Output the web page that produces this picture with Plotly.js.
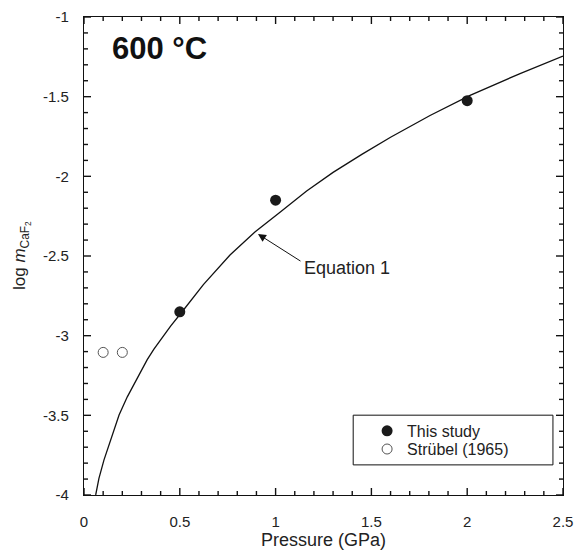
<!DOCTYPE html>
<html>
<head>
<meta charset="utf-8">
<script src="https://cdn.plot.ly/plotly-3.0.1.min.js"></script>
<style>
  html, body { margin: 0; padding: 0; background: #fff; }
  #chart { width: 584px; height: 550px; }
</style>
</head>
<body>
<div id="chart"></div>
<script>
// Equation 1 curve
const curveP = [0.061, 0.078, 0.104, 0.139, 0.183, 0.226, 0.278, 0.33, 0.365, 0.452, 0.51, 0.623, 0.762, 0.892, 1.023, 1.162, 1.30, 1.45, 1.60, 1.806, 2.015, 2.276, 2.5];
const curveLogM = [-4.0, -3.896, -3.781, -3.655, -3.498, -3.384, -3.265, -3.15, -3.085, -2.94, -2.853, -2.68, -2.494, -2.35, -2.225, -2.092, -1.975, -1.862, -1.755, -1.618, -1.492, -1.355, -1.245];

// This study
const studyP = [0.5, 1.0, 2.0];
const studyLogM = [-2.85, -2.15, -1.525];

// Strübel (1965)
const strubelP = [0.1, 0.2];
const strubelLogM = [-3.105, -3.105];

// Tick labels
const xTickVals = [0, 0.5, 1, 1.5, 2, 2.5];
const xTickText = ["0", "0.5", "1", "1.5", "2", "2.5"];
const yTickVals = [-1, -1.5, -2, -2.5, -3, -3.5, -4];
const yTickText = ["-1", "-1.5", "-2", "-2.5", "-3", "-3.5", "-4"];

const FONT = "Liberation Sans, Arial, sans-serif";
const X_RANGE = [0, 2.5];
const Y_RANGE = [-4, -1];
const W = 584, H = 550;
const M = {l: 84, r: 21, t: 17, b: 55};

// Inside tick marks on all four sides (major every 0.5, minor every 0.1),
// drawn as one line trace so they follow the axes' own scales.
const xPerPx = (X_RANGE[1] - X_RANGE[0]) / (W - M.l - M.r);
const yPerPx = (Y_RANGE[1] - Y_RANGE[0]) / (H - M.t - M.b);
const tickX = [], tickY = [];
function seg(x0, y0, x1, y1) { tickX.push(x0, x1, null); tickY.push(y0, y1, null); }
(function buildTicks() {
  const nx = Math.round((X_RANGE[1] - X_RANGE[0]) / 0.1);
  for (let i = 0; i <= nx; i++) {
    const v = X_RANGE[0] + i * 0.1;
    const len = (i % 5 === 0) ? 7 : 4;
    seg(v, Y_RANGE[0], v, Y_RANGE[0] + len * yPerPx);
    seg(v, Y_RANGE[1], v, Y_RANGE[1] - len * yPerPx);
  }
  const ny = Math.round((Y_RANGE[1] - Y_RANGE[0]) / 0.1);
  for (let i = 0; i <= ny; i++) {
    const v = Y_RANGE[0] + i * 0.1;
    const len = (i % 5 === 0) ? 7 : 4;
    seg(X_RANGE[0], v, X_RANGE[0] + len * xPerPx, v);
    seg(X_RANGE[1], v, X_RANGE[1] - len * xPerPx, v);
  }
})();

const traces = [
  {
    x: tickX, y: tickY, mode: "lines", type: "scatter", connectgaps: false,
    line: {color: "#111", width: 1.4, simplify: false}, showlegend: false, hoverinfo: "skip"
  },
  {
    x: curveP, y: curveLogM, mode: "lines", type: "scatter",
    line: {color: "#111", width: 1.3, shape: "linear"},
    showlegend: false, hoverinfo: "skip"
  },
  {
    x: studyP, y: studyLogM, mode: "markers", type: "scatter", name: "This study",
    legend: "legend",
    marker: {symbol: "circle", size: 11, color: "#1a1a1a"}
  },
  {
    x: strubelP, y: strubelLogM, mode: "markers", type: "scatter", name: "Strübel (1965)",
    legend: "legend2",
    marker: {symbol: "circle", size: 10, color: "#fff", line: {color: "#555", width: 1}}
  }
];

const majorAxis = {
  showline: true, linecolor: "#111", linewidth: 1.2, mirror: true,
  ticks: "", showgrid: false, zeroline: false,
  tickfont: {family: FONT, size: 15, color: "#222"}
};

const legendCommon = {
  x: 0.591, xanchor: "left", yanchor: "middle",
  bgcolor: "rgba(0,0,0,0)", borderwidth: 0,
  font: {family: FONT, size: 16, color: "#222"}, itemsizing: "trace"
};

const layout = {
  width: W, height: H,
  margin: M,
  paper_bgcolor: "#fff", plot_bgcolor: "#fff",
  font: {family: FONT, color: "#222"},
  xaxis: Object.assign({}, majorAxis, {
    range: X_RANGE, tickmode: "array", tickvals: xTickVals, ticktext: xTickText,
    ticklabelstandoff: 13,
    title: {text: "Pressure (GPa)", font: {family: FONT, size: 18, color: "#222"}, standoff: 6}
  }),
  yaxis: Object.assign({}, majorAxis, {
    range: Y_RANGE, tickmode: "array", tickvals: yTickVals, ticktext: yTickText,
    ticklabelstandoff: 11
  }),
  showlegend: true,
  legend: Object.assign({}, legendCommon, {y: 0.134}),
  legend2: Object.assign({}, legendCommon, {y: 0.096}),
  shapes: [
    {type: "rect", xref: "paper", yref: "paper", x0: 0.562, x1: 0.979, y0: 0.063, y1: 0.167,
     line: {color: "#111", width: 1}, fillcolor: "rgba(0,0,0,0)"}
  ],
  annotations: [
    {xref: "paper", yref: "paper", x: -0.1315, y: 0.5, xanchor: "center", yanchor: "middle",
     textangle: -90, text: "log <i>m</i><sub>CaF<sub>2</sub></sub>", showarrow: false,
     font: {family: FONT, size: 17, color: "#222"}},
    {xref: "paper", yref: "paper", x: 0.054, y: 0.934, xanchor: "left", yanchor: "middle",
     text: "<b>600 °C</b>", showarrow: false, font: {family: FONT, size: 31, color: "#111"}},
    {x: 1.14, y: -2.576, xref: "x", yref: "y", xanchor: "left", yanchor: "middle",
     text: "Equation 1", showarrow: false, font: {family: FONT, size: 18, color: "#222"}},
    {x: 0.908, y: -2.362, xref: "x", yref: "y", text: "",
     showarrow: true, arrowhead: 2, arrowsize: 1.6, arrowwidth: 1, arrowcolor: "#111",
     ax: 44, ay: 28}
  ]
};

Plotly.newPlot("chart", traces, layout, {displayModeBar: false, staticPlot: true});
</script>
</body>
</html>
